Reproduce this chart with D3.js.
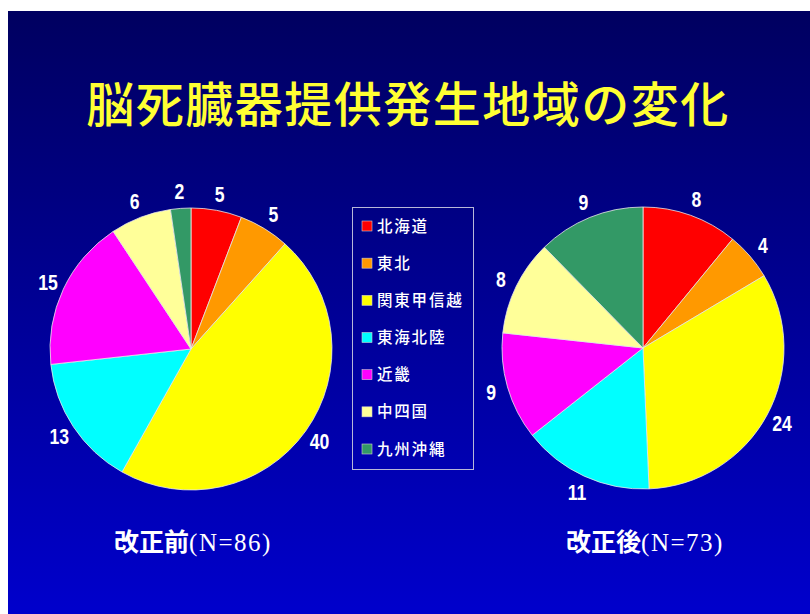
<!DOCTYPE html>
<html>
<head>
<meta charset="utf-8">
<script src="https://cdn.jsdelivr.net/npm/d3@7/dist/d3.min.js"></script>
<style>
  html, body { margin: 0; padding: 0; background: #ffffff; }
  svg { display: block; }
</style>
</head>
<body>
<svg id="chart" width="810" height="614"></svg>
<script>
// Regions (legend order, also the clockwise slice order from 12 o'clock)
const regions = ["北海道", "東北", "関東甲信越", "東海北陸", "近畿", "中四国", "九州沖縄"];
const regionColors = ["#ff0000", "#ff9900", "#ffff00", "#00ffff", "#ff00ff", "#ffff99", "#339966"];

// Donor counts before the revision (N=86) and after it (N=73)
const beforeValues = [5, 5, 40, 13, 15, 6, 2];
const afterValues  = [8, 4, 24, 11, 9, 8, 9];

const titleText = "脳死臓器提供発生地域の変化";
const beforeCaption = ["改正前", "(N=86)"];
const afterCaption  = ["改正後", "(N=73)"];

const W = 810, H = 614;
const svg = d3.select("#chart");

// Slide background: dark navy fading to bright blue
const defs = svg.append("defs");
const grad = defs.append("linearGradient")
  .attr("id", "bg").attr("x1", 0).attr("y1", 0).attr("x2", 0).attr("y2", 1);
grad.append("stop").attr("offset", "0%").attr("stop-color", "#000060");
grad.append("stop").attr("offset", "100%").attr("stop-color", "#0000cc");

svg.append("rect").attr("x", 0).attr("y", 0).attr("width", W).attr("height", H).attr("fill", "#ffffff");
svg.append("rect").attr("x", 8).attr("y", 11).attr("width", W - 8).attr("height", H - 11)
  .attr("fill", "url(#bg)");

// Title
svg.append("text")
  .attr("x", 408).attr("y", 122)
  .attr("text-anchor", "middle")
  .attr("fill", "#ffff33")
  .style("font-family", "'Noto Sans CJK JP', sans-serif")
  .style("font-size", "48px")
  .style("font-weight", 500)
  .style("letter-spacing", "1.5px")
  .text(titleText);

const color = d3.scaleOrdinal().domain(regions).range(regionColors);
const pie = d3.pie().sort(null).value(d => d.value);
const radius = 141;
const arc = d3.arc().innerRadius(0).outerRadius(radius);
const labelArc = d3.arc().innerRadius(158).outerRadius(158);

function drawPie(cx, cy, values, caption) {
  const data = regions.map((r, i) => ({ region: r, value: values[i] }));
  const g = svg.append("g").attr("transform", `translate(${cx},${cy})`);
  const arcs = pie(data);

  g.selectAll("path.slice")
    .data(arcs)
    .join("path")
    .attr("class", "slice")
    .attr("d", arc)
    .attr("fill", d => color(d.data.region))
    .attr("stroke", "#e8e8e8")
    .attr("stroke-width", 0.8);

  // Value labels: tall, narrow bold digits
  g.selectAll("text.val")
    .data(arcs)
    .join("text")
    .attr("class", "val")
    .attr("transform", d => `translate(${labelArc.centroid(d)}) scale(0.8,1)`)
    .attr("text-anchor", "middle")
    .attr("dy", "0.36em")
    .attr("fill", "#ffffff")
    .style("font-family", "'Liberation Sans', Arial, sans-serif")
    .style("font-size", "22px")
    .style("font-weight", "bold")
    .text(d => d.data.value);

  const cap = svg.append("text")
    .attr("x", cx + 2).attr("y", 551)
    .attr("text-anchor", "middle")
    .attr("fill", "#ffffff");
  cap.append("tspan")
    .style("font-family", "'Noto Sans CJK JP', sans-serif")
    .style("font-size", "25px")
    .style("font-weight", "bold")
    .text(caption[0]);
  cap.append("tspan")
    .style("font-family", "'Liberation Serif', serif")
    .style("font-size", "25px")
    .style("letter-spacing", "1.5px")
    .text(caption[1]);
}

drawPie(191, 349, beforeValues, beforeCaption);
drawPie(643, 348, afterValues, afterCaption);

// Legend
const legend = svg.append("g");
legend.append("rect")
  .attr("x", 352.5).attr("y", 207.5).attr("width", 121).attr("height", 262)
  .attr("fill", "none").attr("stroke", "#b8b8d8").attr("stroke-width", 1);

const rowY = d3.scalePoint().domain(regions).range([226, 449]);
const rows = legend.selectAll("g.row").data(regions).join("g")
  .attr("class", "row")
  .attr("transform", d => `translate(0,${rowY(d)})`);
rows.append("rect")
  .attr("x", 362).attr("y", -5).attr("width", 10).attr("height", 10)
  .attr("fill", d => color(d))
  .attr("stroke", "#d0d0d0").attr("stroke-width", 0.6);
rows.append("text")
  .attr("x", 377).attr("y", 0).attr("dy", "0.36em")
  .attr("fill", "#ffffff")
  .style("font-family", "'Noto Sans CJK JP', sans-serif")
  .style("font-size", "15.5px")
  .style("font-weight", 500)
  .style("letter-spacing", "1.8px")
  .text(d => d);
</script>
</body>
</html>
